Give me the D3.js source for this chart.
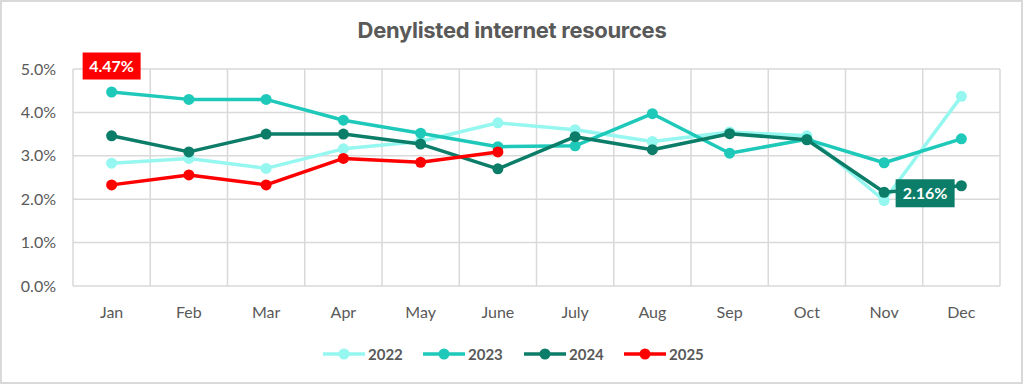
<!DOCTYPE html>
<html>
<head>
<meta charset="utf-8">
<script src="https://cdn.jsdelivr.net/npm/d3@7"></script>
<style>
  html, body { margin: 0; padding: 0; background: #fff; }
  svg { display: block; font-family: "Lato", "Open Sans", sans-serif; }
</style>
</head>
<body>
<div id="chart"></div>
<script>
// data
const months = ['Jan', 'Feb', 'Mar', 'Apr', 'May', 'June', 'July', 'Aug', 'Sep', 'Oct', 'Nov', 'Dec'];
const years = ['2022', '2023', '2024', '2025'];
const values2022 = [2.83, 2.94, 2.71, 3.16, 3.33, 3.76, 3.60, 3.33, 3.55, 3.46, 1.97, 4.37];
const values2023 = [4.47, 4.30, 4.30, 3.82, 3.52, 3.21, 3.23, 3.97, 3.06, 3.38, 2.84, 3.39];
const values2024 = [3.46, 3.09, 3.50, 3.50, 3.27, 2.70, 3.44, 3.14, 3.51, 3.37, 2.16, 2.31];
const values2025 = [2.33, 2.56, 2.33, 2.94, 2.85, 3.09];
const yTicks = [0, 1, 2, 3, 4, 5];
const colors = ['#95f7ef', '#1ec9ba', '#0b7d68', '#ff0000'];

const series = [values2022, values2023, values2024, values2025];

const width = 1024, height = 385;
const margin = { top: 69, right: 24, bottom: 99, left: 73 };   // plot 73..1000 x 69..286

const svg = d3.select('#chart')
  .append('svg')
  .attr('width', width)
  .attr('height', height);

// outer frame
svg.append('rect')
  .attr('x', 1)
  .attr('y', 1)
  .attr('width', width - 3)
  .attr('height', height - 3)
  .style('fill', '#fff')
  .style('stroke', '#d9d9d9')
  .style('stroke-width', 2);

svg.append('text')
  .attr('x', 512)
  .attr('y', 38)
  .attr('text-anchor', 'middle')
  .style('font-family', 'Inter, "Open Sans", sans-serif')
  .style('font-size', '22px')
  .style('font-weight', 'bold')
  .style('letter-spacing', '-0.3px')
  .style('fill', '#595959')
  .text('Denylisted internet resources');

const x = d3.scaleBand()
  .domain(months)
  .range([margin.left, width - margin.right]);

const y = d3.scaleLinear()
  .domain([0, 5])
  .range([height - margin.bottom, margin.top]);

// grid
const grid = svg.append('g').style('stroke', '#d9d9d9').style('stroke-width', 1.5);

grid.selectAll('.hl')
  .data(yTicks)
  .enter()
  .append('line')
  .attr('x1', margin.left)
  .attr('x2', width - margin.right)
  .attr('y1', d => y(d))
  .attr('y2', d => y(d));

grid.selectAll('.vl')
  .data(months.concat(['end']))
  .enter()
  .append('line')
  .attr('x1', (d, i) => margin.left + i * x.step())
  .attr('x2', (d, i) => margin.left + i * x.step())
  .attr('y1', y(0))
  .attr('y2', y(5));

// axes (labels only)
const yAxis = svg.append('g')
  .attr('transform', `translate(${margin.left},0)`)
  .call(d3.axisLeft(y).tickValues(yTicks).tickFormat(d => d.toFixed(1) + '%').tickSize(0).tickPadding(17));

const xAxis = svg.append('g')
  .attr('transform', `translate(0,${y(0)})`)
  .call(d3.axisBottom(x).tickSize(0).tickPadding(21));

[xAxis, yAxis].forEach(a => {
  a.select('.domain').remove();
  a.selectAll('text')
    .style('font-size', '16px')
    .style('font-family', '"Lato", "Open Sans", sans-serif')
    .style('fill', '#595959');
});

// lines
const line = d3.line()
  .x((d, i) => x(months[i]) + x.bandwidth() / 2)
  .y(d => y(d));

series.forEach((vals, s) => {
  const g = svg.append('g');
  g.append('path')
    .attr('d', line(vals))
    .style('fill', 'none')
    .style('stroke', colors[s])
    .style('stroke-width', 3.5)
    .style('stroke-linejoin', 'round');
  g.selectAll('circle')
    .data(vals)
    .enter()
    .append('circle')
    .attr('cx', (d, i) => x(months[i]) + x.bandwidth() / 2)
    .attr('cy', d => y(d))
    .attr('r', 5.5)
    .style('fill', colors[s]);
});

// value callouts
function callout(text, cx, cy, w, h, fill) {
  svg.append('rect')
    .attr('x', cx - w / 2)
    .attr('y', cy - h / 2)
    .attr('width', w)
    .attr('height', h)
    .style('fill', fill);
  svg.append('text')
    .attr('x', cx)
    .attr('y', cy + 6)
    .attr('text-anchor', 'middle')
    .style('font-size', '16px')
    .style('font-weight', 'bold')
    .style('fill', '#fff')
    .text(text);
}
callout(values2023[0].toFixed(2) + '%', x('Jan') + x.bandwidth() / 2, y(values2023[0]) - 26, 58, 27, colors[3]);
callout(values2024[10].toFixed(2) + '%', x('Nov') + x.bandwidth() / 2 + 41, y(values2024[10]) + 1, 59, 28, colors[2]);

// legend
const legendX = [323, 423, 524, 624];
const legend = svg.selectAll('.lg')
  .data(years)
  .enter()
  .append('g')
  .attr('transform', (d, i) => `translate(${legendX[i]},354)`);

legend.append('line')
  .attr('x1', 0)
  .attr('x2', 42)
  .style('stroke', (d, i) => colors[i])
  .style('stroke-width', 3.5);

legend.append('circle')
  .attr('cx', 21)
  .attr('r', 5.5)
  .style('fill', (d, i) => colors[i]);

legend.append('text')
  .attr('x', 45)
  .attr('y', 5.5)
  .style('font-size', '15px')
  .style('font-weight', 'bold')
  .style('fill', '#595959')
  .text(d => d);
</script>
</body>
</html>
